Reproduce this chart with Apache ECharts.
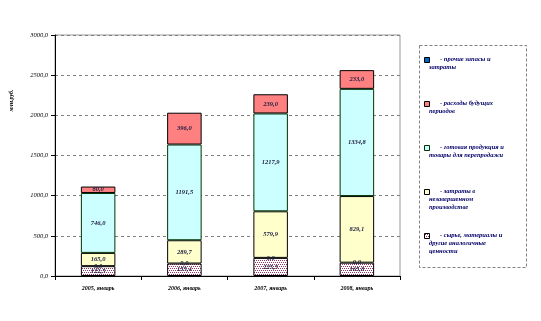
<!DOCTYPE html>
<html><head><meta charset="utf-8">
<script src="https://cdn.jsdelivr.net/npm/echarts@6/dist/echarts.min.js"></script>
<style>html,body{margin:0;padding:0;background:#fff}#c{width:541px;height:321px}</style>
</head><body><div id="c"></div>
<script>
const categories = ['2005, январь', '2006, январь', '2007, январь', '2008, январь'];
const syrye = [122.5, 155.4, 225.5, 165.8];
const prochie = [0.0, 0.0, 0.0, 0.0];
const zatratyNZP = [165.0, 289.7, 579.9, 829.1];
const gotovaya = [746.0, 1191.5, 1217.9, 1334.8];
const raskhody = [80.0, 396.0, 239.0, 233.0];
const yTicks = [0, 500, 1000, 1500, 2000, 2500, 3000];
const seriesNames = ['сырье, материалы и другие аналогичные ценности', 'прочие запасы и затраты', 'затраты в незавершенном производстве', 'готовая продукция и товары для перепродажи', 'расходы будущих периодов'];
const legendLines = [
  ['прочие запасы и', 'затраты'],
  ['расходы будущих', 'периодов'],
  ['готовая продукция и', 'товары для перепродажи'],
  ['затраты в', 'незавершенном', 'производстве'],
  ['сырье, материалы и', 'другие аналогичные', 'ценности']
];

const pc = document.createElement('canvas');
pc.width = 4; pc.height = 4;
const g = pc.getContext('2d');
g.fillStyle = '#ffffff'; g.fillRect(0, 0, 4, 4);
g.fillStyle = '#993366';
[[0,0],[2,0],[1,2],[3,2]].forEach(p => g.fillRect(p[0], p[1], 1, 1));
const patternColor = {image: pc, repeat: 'repeat'};

const fmt = v => Number(v).toFixed(1).replace('.', ',');
const font = '"Liberation Serif", serif';
const labelStyle = {show: true, position: 'inside', fontSize: 6.5, fontStyle: 'italic', fontWeight: 'bold', fontFamily: font, color: '#222244', formatter: p => fmt(p.value)};

const chart = echarts.init(document.getElementById('c'));
const mk = (name, data, color, border, bw) => ({
  name, type: 'bar', stack: 'a', data, barWidth: '40%',
  itemStyle: {color, borderColor: border, borderWidth: bw},
  label: labelStyle
});

const legendColors = ['#0066cc', '#ff8080', '#ccffff', '#ffffcc', patternColor];
const legendBorders = ['#000', '#000', '#003300', '#000', '#000'];
const legendY = [57, 101, 145, 189, 233];
const graphics = [{type: 'rect', shape: {x: 419.5, y: 45.5, width: 107, height: 222}, style: {fill: 'none', stroke: '#808080', lineWidth: 1, lineDash: [3, 2]}}];
legendLines.forEach((lines, i) => {
  graphics.push({type: 'rect', shape: {x: 424.5, y: legendY[i] + 0.5, width: 5, height: 5}, style: {fill: legendColors[i], stroke: legendBorders[i], lineWidth: 1}});
  graphics.push({type: 'text', x: 440, y: legendY[i] - 1, style: {text: '- ' + lines[0], font: 'italic bold 6.5px ' + font, fill: '#000066'}});
  lines.slice(1).forEach((l, j) => {
    graphics.push({type: 'text', x: 429, y: legendY[i] - 1 + 8 * (j + 1), style: {text: l, font: 'italic bold 6.5px ' + font, fill: '#000066'}});
  });
});

chart.setOption({
  animation: false,
  grid: {left: 52, right: 141, top: 35, bottom: 45, show: true, borderColor: '#999', borderWidth: 1},
  xAxis: {
    type: 'category', data: categories,
    axisLine: {lineStyle: {color: '#000', width: 1}},
    axisTick: {show: true, length: 4, lineStyle: {color: '#000'}},
    axisLabel: {fontSize: 6, fontStyle: 'italic', fontWeight: 'bold', fontFamily: font, color: '#000', margin: 9}
  },
  yAxis: {
    type: 'value', min: yTicks[0], max: yTicks[yTicks.length - 1], interval: 500,
    name: 'млн.руб.', nameLocation: 'middle', nameGap: 41,
    nameTextStyle: {fontSize: 6, fontStyle: 'italic', fontWeight: 'bold', fontFamily: font, color: '#000', padding: [0, 0, 0, 110]},
    axisLine: {show: true, lineStyle: {color: '#000', width: 1}},
    axisTick: {show: true, length: 4, lineStyle: {color: '#000'}},
    axisLabel: {fontSize: 6.5, fontStyle: 'italic', fontFamily: font, color: '#000', margin: 7, formatter: fmt},
    splitLine: {lineStyle: {color: '#808080', type: [3, 3], width: 1}}
  },
  series: [
    mk(seriesNames[0], syrye, patternColor, '#000', 1),
    mk(seriesNames[1], prochie, '#0066cc', '#000', 0),
    mk(seriesNames[2], zatratyNZP, '#ffffcc', '#000', 1),
    mk(seriesNames[3], gotovaya, '#ccffff', '#003300', 1),
    mk(seriesNames[4], raskhody, '#ff8080', '#000', 1)
  ],
  graphic: graphics
});
</script></body></html>
